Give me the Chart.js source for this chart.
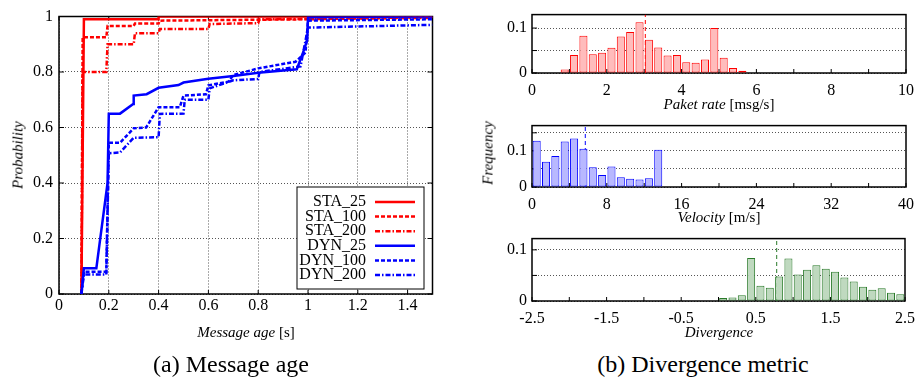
<!DOCTYPE html>
<html>
<head>
<meta charset="utf-8">
<script src="https://cdn.jsdelivr.net/npm/chart.js@4.4.0/dist/chart.umd.min.js"></script>
<style>
  body { margin:0; background:#fff; width:915px; height:383px; position:relative; overflow:hidden; font-family:"Liberation Serif", serif; color:#000; }
  canvas { position:absolute; }
  .lab { position:absolute; white-space:nowrap; transform:translate(-50%,-50%); font-size:15px; }
  .rot { transform:translate(-50%,-50%) rotate(-90deg); }
  .cap { font-size:24px; }
</style>
</head>
<body>
<canvas id="age" width="445" height="330" style="left:0;top:0"></canvas>
<canvas id="rate" width="435" height="100" style="left:480px;top:0"></canvas>
<canvas id="vel" width="435" height="103" style="left:480px;top:111px"></canvas>
<canvas id="div" width="435" height="104" style="left:480px;top:224px"></canvas>

<div class="lab rot" style="left:18px;top:155px"><i>Probability</i></div>
<div class="lab" style="left:246px;top:332px"><i>Message age</i> [s]</div>
<div class="lab cap" style="left:231px;top:364px">(a) Message age</div>
<div class="lab rot" style="left:488px;top:153px"><i>Frequency</i></div>
<div class="lab" style="left:719px;top:104px"><i>Paket rate</i> [msg/s]</div>
<div class="lab" style="left:719px;top:217px"><i>Velocity</i> [m/s]</div>
<div class="lab" style="left:719px;top:332px"><i>Divergence</i></div>
<div class="lab cap" style="left:703px;top:364px">(b) Divergence metric</div>

<script>
Chart.defaults.font.family = '"Liberation Serif", serif';
Chart.defaults.font.size = 16;
Chart.defaults.color = '#000';

// (a) message age CDF, [x, y] points
var sta25  = [[0.09,0],[0.1,0.99],[0.4,0.99],[0.4,1],[1.5,1]];
var sta100 = [[0.09,0],[0.095,0.925],[0.19,0.925],[0.195,0.966],[0.3,0.966],[0.305,0.975],[0.4,0.975],[0.405,0.985],[1.0,0.99],[1.5,0.998]];
var sta200 = [[0.09,0],[0.095,0.8],[0.19,0.8],[0.195,0.9],[0.3,0.9],[0.305,0.94],[0.4,0.94],[0.405,0.955],[0.6,0.955],[0.605,0.973],[0.8,0.976],[0.805,0.99],[1.5,0.995]];
var dyn25  = [[0.09,0],[0.1,0.093],[0.15,0.093],[0.195,0.4],[0.2,0.65],[0.245,0.65],[0.298,0.685],[0.3,0.715],[0.352,0.72],[0.4,0.743],[0.48,0.753],[0.5,0.762],[0.6,0.776],[0.7,0.786],[0.8,0.797],[0.955,0.81],[0.98,0.87],[0.997,0.915],[1.0,0.997],[1.5,1]];
var dyn100 = [[0.09,0],[0.1,0.08],[0.19,0.08],[0.2,0.545],[0.245,0.545],[0.3,0.597],[0.35,0.6],[0.4,0.673],[0.485,0.673],[0.5,0.715],[0.59,0.72],[0.6,0.752],[0.68,0.765],[0.7,0.789],[0.8,0.813],[0.95,0.837],[0.99,0.87],[1.0,0.985],[1.5,0.99]];
var dyn200 = [[0.09,0],[0.1,0.07],[0.19,0.07],[0.2,0.507],[0.245,0.51],[0.3,0.563],[0.4,0.565],[0.405,0.649],[0.5,0.65],[0.505,0.7],[0.6,0.7],[0.605,0.741],[0.7,0.77],[0.8,0.775],[0.805,0.8],[0.97,0.82],[1.0,0.96],[1.5,0.97]];

// (b) histograms: bin centres and frequencies
var rateBin  = [0.125,0.875,1.125,1.375,1.625,1.875,2.125,2.375,2.625,2.875,3.125,3.375,3.625,3.875,4.125,4.375,4.625,4.875,5.125,5.375,5.625,5.875,6.125,6.375,7.375,7.875,9.875];
var rateFreq = [0.001,0.008,0.040,0.083,0.042,0.045,0.056,0.081,0.091,0.113,0.074,0.057,0.039,0.040,0.024,0.023,0.030,0.100,0.034,0.011,0.005,0.001,0.001,0.001,0.001,0.001,0.001];
var rateMean = 3.03;

var velBin  = [0.5,1.5,2.5,3.5,4.5,5.5,6.5,7.5,8.5,9.5,10.5,11.5,12.5,13.5];
var velFreq = [0.128,0.070,0.086,0.126,0.134,0.106,0.055,0.033,0.057,0.027,0.023,0.021,0.024,0.103];
var velMean = 5.7;

var divBin  = [0.0625,0.1875,0.3125,0.4375,0.5625,0.6875,0.8125,0.9375,1.0625,1.1875,1.3125,1.4375,1.5625,1.6875,1.8125,1.9375,2.0625,2.1875,2.3125,2.4375];
var divFreq = [0.006,0.007,0.011,0.084,0.030,0.026,0.048,0.083,0.052,0.061,0.070,0.063,0.057,0.046,0.038,0.028,0.022,0.025,0.016,0.013];
var divMean = 0.78;

function pts(arr){ return arr.map(function(p){ return {x:p[0], y:p[1]}; }); }
function bars(xs, ys){ return xs.map(function(x,i){ return {x:x, y:ys[i]}; }); }

// frame + inward tick marks, gnuplot style
var framePlugin = {
  id: 'frame',
  beforeDatasetsDraw: function(chart, args, opts){
    var ctx = chart.ctx, a = chart.chartArea, sx = chart.scales.x, sy = chart.scales.y;
    ctx.save();
    ctx.strokeStyle = '#000';
    ctx.lineWidth = 1;
    ctx.beginPath();
    sx.ticks.forEach(function(t){
      var px = sx.getPixelForValue(t.value);
      ctx.moveTo(px, a.bottom); ctx.lineTo(px, a.bottom - 4);
      if (opts.mirror) { ctx.moveTo(px, a.top); ctx.lineTo(px, a.top + 4); }
    });
    sy.ticks.forEach(function(t){
      var py = sy.getPixelForValue(t.value);
      ctx.moveTo(a.left, py); ctx.lineTo(a.left + 5, py);
      if (opts.mirror) { ctx.moveTo(a.right, py); ctx.lineTo(a.right - 5, py); }
    });
    ctx.stroke();
    ctx.lineWidth = 1.5;
    ctx.strokeRect(a.left, a.top, a.width, a.height);
    ctx.restore();
  }
};

// boxed legend with right aligned labels (like the gnuplot key)
var keyPlugin = {
  id: 'boxKey',
  afterDatasetsDraw: function(chart){
    var ctx = chart.ctx, a = chart.chartArea;
    var w = 127, h = 102;
    var x0 = a.right - 8.5 - w, y0 = a.bottom - 5 - h;
    ctx.save();
    ctx.fillStyle = '#fff';
    ctx.fillRect(x0, y0, w, h);
    ctx.strokeStyle = '#000';
    ctx.lineWidth = 1;
    ctx.strokeRect(x0, y0, w, h);
    ctx.font = '16px "Liberation Serif"';
    ctx.textAlign = 'right';
    ctx.textBaseline = 'middle';
    chart.data.datasets.forEach(function(ds, i){
      var y = y0 + 15 + i * 14.6;
      ctx.fillStyle = '#000';
      ctx.fillText(ds.label, x0 + 69, y);
      ctx.strokeStyle = ds.borderColor;
      ctx.lineWidth = ds.borderWidth;
      ctx.setLineDash(ds.borderDash || []);
      ctx.beginPath();
      ctx.moveTo(x0 + 78, y);
      ctx.lineTo(x0 + 118, y);
      ctx.stroke();
      ctx.setLineDash([]);
    });
    ctx.restore();
  }
};

function cdfLine(label, data, color, dash, order){
  return { label: label, data: pts(data), borderColor: color, borderWidth: 2.5, borderDash: dash,
           showLine: true, pointRadius: 0, tension: 0, fill: false, order: order };
}

new Chart(document.getElementById('age'), {
  type: 'scatter',
  data: {
    datasets: [
      cdfLine('STA_25',  sta25,  '#ff0000', [], 1),
      cdfLine('STA_100', sta100, '#ff0000', [4,2], 1),
      cdfLine('STA_200', sta200, '#ff0000', [5,2,1.5,2], 1),
      cdfLine('DYN_25',  dyn25,  '#0000ff', [], 0),
      cdfLine('DYN_100', dyn100, '#0000ff', [4,2], 0),
      cdfLine('DYN_200', dyn200, '#0000ff', [5,2,1.5,2], 0)
    ]
  },
  options: {
    responsive: false,
    animation: false,
    layout: { padding: { top: 16.5, right: 12.5, left: 0, bottom: 0 } },
    plugins: { legend: { display: false }, tooltip: { enabled: false }, frame: { mirror: true } },
    scales: {
      x: {
        type: 'linear', min: 0, max: 1.5,
        afterFit: function(s){ s.height = 36; },
        grid: { color: '#555', lineWidth: 1, drawTicks: false },
        border: { display: false, dash: [1,2] },
        ticks: { stepSize: 0.2, includeBounds: false, padding: 2, maxRotation: 0, autoSkip: false,
                 callback: function(v){ return String(Math.round(v * 10) / 10); } }
      },
      y: {
        min: 0, max: 1,
        afterFit: function(s){ s.width = 59; },
        grid: { color: '#555', lineWidth: 1, drawTicks: false },
        border: { display: false, dash: [1,2] },
        ticks: { stepSize: 0.2, padding: 6, autoSkip: false,
                 callback: function(v){ return String(Math.round(v * 10) / 10); } }
      }
    }
  },
  plugins: [framePlugin, keyPlugin]
});

function histo(id, xs, ys, mean, xmin, xmax, xstep, labelEvery, ymax, fill, edge, topPad){
  var ds = [
    { type: 'bar', data: bars(xs, ys), backgroundColor: fill, borderColor: edge, borderWidth: 1,
      borderSkipped: false, barPercentage: 0.86, categoryPercentage: 1 },
    { type: 'line', data: [{x: mean, y: 0}, {x: mean, y: ymax}], borderColor: edge, borderWidth: 1,
      borderDash: [4,3], pointRadius: 0 }
  ];
  return new Chart(document.getElementById(id), {
    type: 'bar',
    data: { datasets: ds },
    options: {
      responsive: false,
      animation: false,
      layout: { padding: { top: topPad, right: 9, left: 0, bottom: 0 } },
      plugins: { legend: { display: false }, tooltip: { enabled: false }, frame: { mirror: false } },
      scales: {
        x: {
          type: 'linear', min: xmin, max: xmax, offset: false,
          afterFit: function(s){ s.height = 27; },
          grid: { display: false, offset: false },
          border: { display: false },
          ticks: { stepSize: xstep, padding: 0, maxRotation: 0, autoSkip: false,
                   callback: function(v){ return labelEvery(v) ? String(v) : ''; } }
        },
        y: {
          min: 0, max: ymax,
          afterFit: function(s){ s.width = 52; },
          grid: { color: '#555', lineWidth: 1, drawTicks: false },
          border: { display: false, dash: [1,2] },
          ticks: { stepSize: 0.05, includeBounds: false, padding: 5, autoSkip: false,
                   callback: function(v){ var r = Math.round(v * 100) / 100; return (r === 0 || r === 0.1) ? String(r) : ''; } }
        }
      }
    },
    plugins: [framePlugin]
  });
}

function near(a, b){ return Math.abs(a - b) < 1e-6; }

histo('rate', rateBin, rateFreq, rateMean, 0, 10, 1,
      function(v){ return near(v % 2, 0); }, 0.13, '#ffbcbc', '#ff0000', 7);
histo('vel', velBin, velFreq, velMean, 0, 40, 4,
      function(v){ return near(v % 8, 0); }, 0.17, '#b8b8ff', '#0000ff', 10);
histo('div', divBin, divFreq, divMean, -2.5, 2.5, 0.5,
      function(v){ var m = ((v + 2.5) % 1 + 1) % 1; return near(m, 0) || near(m, 1); }, 0.122, '#bfd9bf', '#2a7a2a', 10);
</script>
</body>
</html>
